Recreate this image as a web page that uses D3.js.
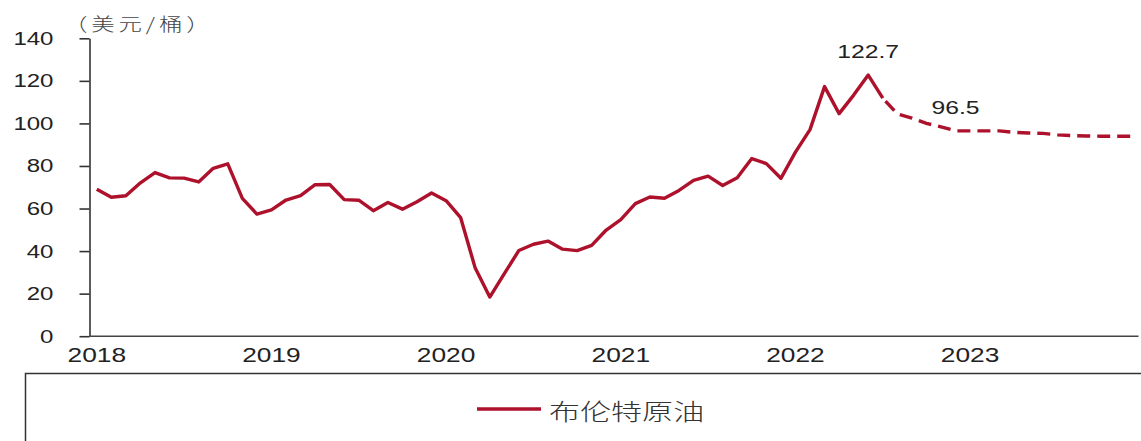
<!DOCTYPE html>
<html>
<head>
<meta charset="utf-8">
<script src="https://cdn.jsdelivr.net/npm/d3@7"></script>
<style>
	html, body { margin: 0; padding: 0; background: #fff; }
	svg { display: block; }
	.tick-text { font-family: "Liberation Sans", Arial, sans-serif; fill: #222; }
</style>
</head>
<body>
<div id="plot"></div>
<script>

// ---- data ----
var years = [ "2018", "2019", "2020", "2021", "2022", "2023" ];

// Brent monthly average, Jan 2018 .. Dec 2023 (from Jul 2022 on: forecast)
var brent2018 = [ 69.1, 65.3, 66.0, 72.1, 76.9, 74.4, 74.3, 72.5, 78.9, 81.0, 64.8, 57.4 ];
var brent2019 = [ 59.4, 64.0, 66.1, 71.2, 71.3, 64.2, 63.9, 59.0, 62.8, 59.7, 63.2, 67.3 ];
var brent2020 = [ 63.7, 55.7, 32.0, 18.4, 29.4, 40.3, 43.2, 44.7, 40.9, 40.2, 42.7, 49.9 ];
var brent2021 = [ 54.8, 62.3, 65.4, 64.8, 68.5, 73.2, 75.2, 70.8, 74.5, 83.5, 81.1, 74.2 ];
var brent2022 = [ 86.5, 97.1, 117.3, 104.6, 113.3, 122.7, 111.9, 104.5, 102.5, 100.0, 98.4, 96.5 ];
var brent2023 = [ 96.5, 96.5, 96.5, 95.8, 95.5, 95.3, 94.6, 94.3, 94.1, 94.0, 94.0, 94.0 ];

var forecastFrom = "2022-07";
var yTicks = [ 0, 20, 40, 60, 80, 100, 120, 140 ];
var annotations = [ { month : "2022-06", text : "122.7" }, { month : "2022-12", text : "96.5" } ];
var unitLabel = "（美元/桶）";
var seriesName = "布伦特原油";

// ---- layout ----
var options = {
	width : 1141,
	height : 441,
	left : 89.5,
	right : 1137.5,
	top : 38.3,
	bottom : 336.2,
	color : "#ad112b",
	stretch : 1.3 // source picture is widened horizontally
};

var months = [];
years.forEach(function(y) {
	d3.range(1, 13).forEach(function(m) {
		months.push(y + "-" + (m < 10 ? "0" + m : m));
	});
});
var values = [].concat(brent2018, brent2019, brent2020, brent2021, brent2022, brent2023);
var data = months.map(function(m, i) {
	return { month : m, value : values[i] };
});
var split = months.indexOf(forecastFrom);

var svg = d3.select("#plot").append("svg").attr("width", options.width)
		.attr("height", options.height);

var x = d3.scaleBand().domain(months).range([ options.left, options.right ]);
var y = d3.scaleLinear().domain([ 0, 140 ]).range([ options.bottom, options.top ]);

function cx(m) {
	return x(m) + x.bandwidth() / 2;
}

// y axis
var yAxis = svg.append("g").attr("transform", "translate(" + options.left + ",0)")
		.call(d3.axisLeft(y).tickValues(yTicks).tickSize(10).tickSizeOuter(0));
yAxis.select(".domain").attr("stroke", "#333").attr("stroke-width", 1.6);
yAxis.selectAll(".tick line").attr("stroke", "#333").attr("stroke-width", 1.6);
yAxis.selectAll(".tick text").attr("class", "tick-text").attr("x", 0)
		.attr("transform", "translate(-36,0) scale(" + options.stretch + ",1)")
		.style("font-size", "18.5px").attr("fill", "#222");

// x baseline
svg.append("line").attr("x1", options.left).attr("x2", options.right + 1)
		.attr("y1", options.bottom).attr("y2", options.bottom)
		.attr("stroke", "#444").attr("stroke-width", 1.6);

// year labels
svg.selectAll(".year-label").data(years).enter().append("text")
		.attr("class", "tick-text year-label")
		.attr("text-anchor", "middle")
		.attr("transform", function(d) {
			return "translate(" + cx(d + "-01") + ",362) scale(" + (options.stretch + 0.05) + ",1)";
		})
		.style("font-size", "19.5px")
		.text(function(d) {
			return d;
		});

// unit
svg.append("text").attr("transform", "translate(64,31) scale(" + options.stretch + ",1)")
		.style("font-family", "'Noto Sans CJK SC', sans-serif").style("font-size", "18px")
		.style("letter-spacing", "3px").style("font-weight", 300)
		.attr("fill", "#444").text(unitLabel);

// lines
var line = d3.line().x(function(d) {
	return cx(d.month);
}).y(function(d) {
	return y(d.value);
});

svg.append("path").datum(data.slice(0, split + 1)).attr("d", line)
		.attr("fill", "none").attr("stroke", options.color).attr("stroke-width", 3.4)
		.attr("stroke-linejoin", "round");

svg.append("path").datum(data.slice(split)).attr("d", line)
		.attr("fill", "none").attr("stroke", options.color).attr("stroke-width", 3.4)
		.attr("stroke-dasharray", "13,7").attr("stroke-dashoffset", -4);

// value labels
svg.selectAll(".anno").data(annotations).enter().append("text")
		.attr("class", "tick-text anno")
		.attr("text-anchor", "middle")
		.attr("transform", function(d) {
			var v = values[months.indexOf(d.month)];
			return "translate(" + cx(d.month) + "," + (y(v) - 17) + ") scale(" + options.stretch + ",1)";
		})
		.style("font-size", "19px")
		.text(function(d) {
			return d.text;
		});

// legend box
svg.append("rect").attr("x", 25.5).attr("y", 373.5).attr("width", 1200).attr("height", 120)
		.attr("fill", "none").attr("stroke", "#333").attr("stroke-width", 1.5);

svg.append("line").attr("x1", 477).attr("x2", 541).attr("y1", 409).attr("y2", 409)
		.attr("stroke", options.color).attr("stroke-width", 3.5);

svg.append("text").attr("transform", "translate(549,410) scale(1.35,1)")
		.attr("dominant-baseline", "central")
		.style("font-family", "'Noto Sans CJK SC', sans-serif").style("font-size", "23px")
		.style("font-weight", 300).attr("fill", "#333").text(seriesName);

</script>
</body>
</html>
